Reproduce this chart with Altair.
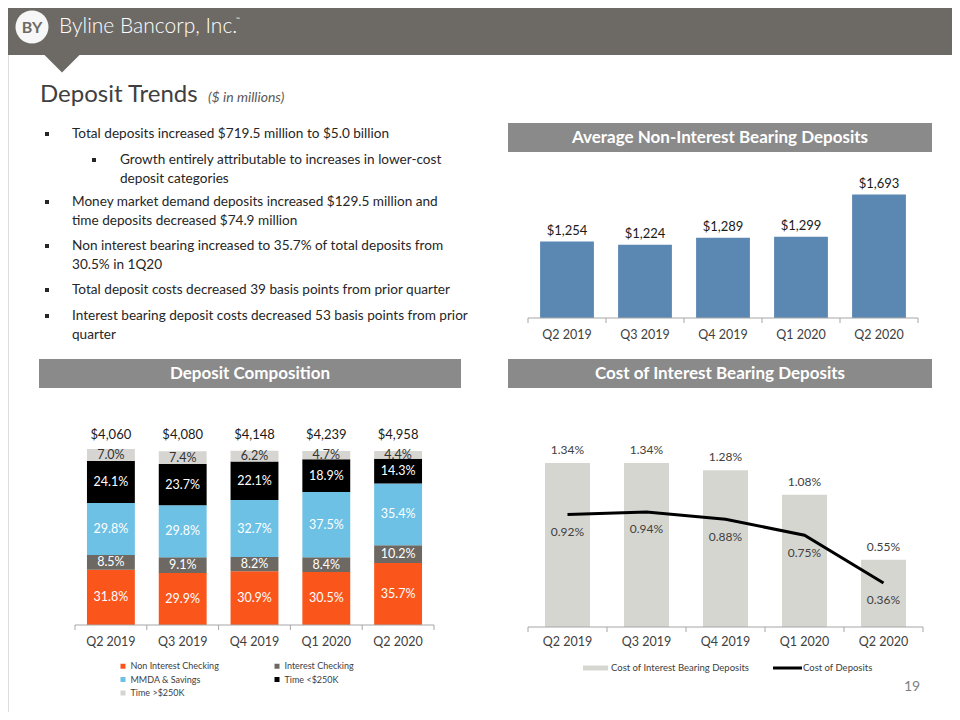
import altair as alt
import pandas as pd

# ---------------- data ----------------
quarters = ["Q2 2019", "Q3 2019", "Q4 2019", "Q1 2020", "Q2 2020"]

avg_non_interest_bearing = [1254, 1224, 1289, 1299, 1693]

series = ["Non Interest Checking", "Interest Checking", "MMDA & Savings",
          "Time <$250K", "Time >$250K"]
non_interest_checking = [31.8, 29.9, 30.9, 30.5, 35.7]
interest_checking = [8.5, 9.1, 8.2, 8.4, 10.2]
mmda_savings = [29.8, 29.8, 32.7, 37.5, 35.4]
time_under_250k = [24.1, 23.7, 22.1, 18.9, 14.3]
time_over_250k = [7.0, 7.4, 6.2, 4.7, 4.4]
total_deposits = [4060, 4080, 4148, 4239, 4958]

cost_interest_bearing = [1.34, 1.34, 1.28, 1.08, 0.55]
cost_of_deposits = [0.92, 0.94, 0.88, 0.75, 0.36]

bullet_items = [
    (0, ["Total deposits increased $719.5 million to $5.0 billion"]),
    (1, ["Growth entirely attributable to increases in lower-cost",
         "deposit categories"]),
    (0, ["Money market demand deposits increased $129.5 million and",
         "time deposits decreased $74.9 million"]),
    (0, ["Non interest bearing increased to 35.7% of total deposits from",
         "30.5%  in 1Q20"]),
    (0, ["Total deposit costs decreased 39 basis points from prior quarter"]),
    (0, ["Interest bearing deposit costs decreased 53 basis points from prior",
         "quarter"]),
]

# ---------------- layout / style ----------------
OX, OY = 8, 8          # page margin: page px -> chart px
FONT = "Lato"
HEADER_GRAY = "#6D6A65"
BOX_GRAY = "#8A8A8A"
AXIS_GRAY = "#A6A6A6"
TEXT_DARK = "#262626"
BLUE = "#5B87B3"
SERIES_COLORS = ["#FA561C", "#6D6862", "#6CC1E5", "#000000", "#D6D5D1"]
COST_BAR = "#D6D6D1"

bullet_first_y = [134, 160, 202, 246, 290, 316]
bullet_line_gap = 18.5
BULLET_SIZE = 13.6
BOX_TITLE_SIZE = 17

one = pd.DataFrame({"k": [0]})


def txt(text, x, y, size, color, weight="normal", align="left",
        baseline="middle", style="normal"):
    return alt.Chart(one).mark_text(
        text=text, align=align, baseline=baseline, fontSize=size,
        color=color, fontWeight=weight, fontStyle=style, font=FONT
    ).encode(x=alt.value(x - OX), y=alt.value(y - OY))


def box(x1, y1, x2, y2, color):
    return alt.Chart(one).mark_rect(color=color).encode(
        x=alt.value(x1 - OX), x2=alt.value(x2 - OX),
        y=alt.value(y1 - OY), y2=alt.value(y2 - OY))


def hline(x1, x2, y, color, width=1):
    return alt.Chart(one).mark_rule(color=color, strokeWidth=width).encode(
        x=alt.value(x1 - OX), x2=alt.value(x2 - OX), y=alt.value(y - OY))


def boundary_ticks(x1, x2, y, n):
    df = pd.DataFrame({"b": list(range(n + 1))})
    return alt.Chart(df).mark_rule(color=AXIS_GRAY).encode(
        x=alt.X("b:Q", scale=alt.Scale(domain=[0, n], range=[x1 - OX, x2 - OX]),
                axis=None),
        y=alt.value(y - OY), y2=alt.value(y + 5 - OY))


layers = []

# ---- slide header ----
layers.append(box(0, 0, 960, 55, HEADER_GRAY))
layers.append(alt.Chart(one).mark_point(
    shape="M-1,-1L1,-1L0,0Z", filled=True, size=1225, opacity=1,
    color=HEADER_GRAY, strokeWidth=0
).encode(x=alt.value(62 - OX), y=alt.value(72.5 - OY)))
layers.append(alt.Chart(one).mark_circle(size=1089, color="#F7F7F7", opacity=1).encode(
    x=alt.value(32 - OX), y=alt.value(27 - OY)))
layers.append(txt("BY", 32, 28, 16, HEADER_GRAY, weight="bold", align="center"))
layers.append(txt("Byline Bancorp, Inc.", 59, 27, 21, "white", weight=300))
layers.append(txt("\u2122", 236, 19, 5, "white"))

# ---- title ----
layers.append(txt("Deposit Trends", 40, 102, 24, "#404040", baseline="alphabetic"))
layers.append(txt("($ in millions)", 208, 102, 14, "#595959", style="italic",
                  baseline="alphabetic"))

# ---- bullets ----
for (level, lines), y0 in zip(bullet_items, bullet_first_y):
    mx = 47 if level == 0 else 94
    tx = 72 if level == 0 else 120
    layers.append(alt.Chart(one).mark_square(size=16, color=TEXT_DARK, opacity=1).encode(
        x=alt.value(mx - OX), y=alt.value(y0 - OY)))
    for i, line in enumerate(lines):
        layers.append(txt(line, tx, y0 + i * bullet_line_gap, BULLET_SIZE, TEXT_DARK))

# ---- section headers ----
layers.append(box(508, 123, 932, 152, BOX_GRAY))
layers.append(txt("Average Non-Interest Bearing Deposits", 720, 137.5, BOX_TITLE_SIZE,
                  "white", weight="bold", align="center"))
layers.append(box(39, 359, 461, 388, BOX_GRAY))
layers.append(txt("Deposit Composition", 250, 373.5, BOX_TITLE_SIZE, "white",
                  weight="bold", align="center"))
layers.append(box(508, 359, 932, 388, BOX_GRAY))
layers.append(txt("Cost of Interest Bearing Deposits", 720, 373.5, BOX_TITLE_SIZE,
                  "white", weight="bold", align="center"))

# ---- Average non-interest bearing deposits ----
AVG_BASE = 540
avg_df = pd.DataFrame({"quarter": quarters, "value": avg_non_interest_bearing})
x_avg = alt.Scale(domain=quarters, range=[528 - OX, 918 - OX],
                  paddingInner=0.31, paddingOuter=0.155)
y_avg = alt.Scale(domain=[AVG_BASE, 1700], range=[318 - OY, 193.8 - OY],
                  nice=False, zero=False)
avg_base = alt.Chart(avg_df).encode(
    x=alt.X("quarter:N", scale=x_avg, axis=None))
layers.append(avg_base.mark_bar(color=BLUE).encode(
    y=alt.Y("value:Q", scale=y_avg, axis=None), y2=alt.datum(AVG_BASE)))
layers.append(avg_base.mark_text(baseline="bottom", dy=-4, fontSize=13,
                                 color="#1A1A1A", font=FONT).encode(
    y=alt.Y("value:Q", scale=y_avg, axis=None),
    text=alt.Text("value:Q", format="$,.0f")))
layers.append(hline(528, 918, 318, AXIS_GRAY))
layers.append(boundary_ticks(528, 918, 318, len(quarters)))
layers.append(avg_base.mark_text(baseline="middle", fontSize=12.5, color="#404040",
                                 font=FONT).encode(
    y=alt.value(335 - OY), text="quarter:N"))

# ---- Deposit composition (stacked) ----
rows = []
for s_i, (name, vals) in enumerate(zip(series, [non_interest_checking, interest_checking,
                                                 mmda_savings, time_under_250k,
                                                 time_over_250k])):
    for q, v in zip(quarters, vals):
        rows.append({"quarter": q, "series": name, "pct": v, "order": s_i})
comp_df = pd.DataFrame(rows)
x_comp = alt.Scale(domain=quarters, range=[75 - OX, 434 - OX],
                   paddingInner=0.333, paddingOuter=0.1667)
y_comp = alt.Scale(domain=[0, 100], range=[625 - OY, 451 - OY], nice=False, zero=False)
comp_base = alt.Chart(comp_df).transform_stack(
    stack="pct", groupby=["quarter"], sort=[alt.SortField("order")], as_=["y0", "y1"]
).transform_calculate(
    mid="(datum.y0 + datum.y1) / 2",
    label="format(datum.pct, '.1f') + '%'"
).encode(x=alt.X("quarter:N", scale=x_comp, axis=None))

layers.append(comp_base.mark_bar().encode(
    y=alt.Y("y0:Q", scale=y_comp, axis=None), y2="y1:Q",
    color=alt.Color("series:N", title=None,
                    scale=alt.Scale(domain=series, range=SERIES_COLORS),
                    legend=alt.Legend(orient="none", direction="horizontal",
                                      legendX=118.5 - OX,
                                      legendY=661.5 - OY, columns=2,
                                      symbolType="square", symbolSize=25,
                                      symbolStrokeWidth=0, labelFontSize=9,
                                      labelFont=FONT, labelColor="#404040",
                                      labelOffset=3, rowPadding=3.5,
                                      columnPadding=53, padding=0))))
layers.append(comp_base.mark_text(baseline="middle", fontSize=12.5, font=FONT).encode(
    y=alt.Y("mid:Q", scale=y_comp, axis=None),
    text="label:N",
    color=alt.condition(alt.datum.series == "Time >$250K",
                        alt.value("#333333"), alt.value("white"))))

tot_df = pd.DataFrame({"quarter": quarters, "total": total_deposits})
layers.append(alt.Chart(tot_df).mark_text(baseline="middle", fontSize=13,
                                          color="#1A1A1A", font=FONT).encode(
    x=alt.X("quarter:N", scale=x_comp, axis=None),
    y=alt.value(435 - OY),
    text=alt.Text("total:Q", format="$,.0f")))
layers.append(hline(75, 434, 625, AXIS_GRAY))
layers.append(boundary_ticks(75, 434, 625, len(quarters)))
layers.append(alt.Chart(tot_df).mark_text(baseline="middle", fontSize=12.5,
                                          color="#404040", font=FONT).encode(
    x=alt.X("quarter:N", scale=x_comp, axis=None),
    y=alt.value(642 - OY), text="quarter:N"))

# ---- Cost of interest bearing deposits ----
cost_df = pd.DataFrame({"quarter": quarters, "ib": cost_interest_bearing,
                        "dep": cost_of_deposits})
x_cost = alt.Scale(domain=quarters, range=[528 - OX, 923 - OX],
                   paddingInner=0.43, paddingOuter=0.215)
y_cost = alt.Scale(domain=[0, 1.34], range=[627 - OY, 463 - OY], nice=False, zero=False)
cost_base = alt.Chart(cost_df).transform_calculate(
    ib_label="format(datum.ib, '.2f') + '%'",
    dep_label="format(datum.dep, '.2f') + '%'"
).encode(x=alt.X("quarter:N", scale=x_cost, axis=None))
layers.append(cost_base.mark_bar(color=COST_BAR).encode(
    y=alt.Y("ib:Q", scale=y_cost, axis=None), y2=alt.datum(0)))
layers.append(cost_base.mark_text(baseline="middle", dy=-13, fontSize=12,
                                  color="#404040", font=FONT).encode(
    y=alt.Y("ib:Q", scale=y_cost, axis=None), text="ib_label:N"))
layers.append(cost_base.mark_line(color="black", strokeWidth=3).encode(
    y=alt.Y("dep:Q", scale=y_cost, axis=None)))
layers.append(cost_base.mark_text(baseline="middle", dy=17.5, fontSize=12,
                                  color="#404040", font=FONT).encode(
    y=alt.Y("dep:Q", scale=y_cost, axis=None), text="dep_label:N"))
layers.append(hline(528, 923, 627, AXIS_GRAY))
layers.append(boundary_ticks(528, 923, 627, len(quarters)))
layers.append(cost_base.mark_text(baseline="middle", fontSize=12.5, color="#404040",
                                  font=FONT).encode(
    y=alt.value(642 - OY), text="quarter:N"))

# manual legend for bar + line
layers.append(box(583, 665.5, 608, 670.5, COST_BAR))
layers.append(txt("Cost of Interest Bearing Deposits", 611, 668, 9.5, "#404040"))
layers.append(hline(773, 802, 668, "black", width=3))
layers.append(txt("Cost of Deposits", 803, 668, 9.5, "#404040"))

# page number
layers.append(txt("19", 912, 687, 14, "#7F7F7F", align="center"))

chart = alt.layer(*layers).resolve_scale(
    x="independent", y="independent", color="independent"
).properties(
    width=944, height=704, padding=0,
    autosize=alt.AutoSizeParams(type="none"),
    background="white"
).configure_view(stroke="transparent").configure(font=FONT)

chart.save("out.html", embed_options={"renderer": "svg", "actions": False})
